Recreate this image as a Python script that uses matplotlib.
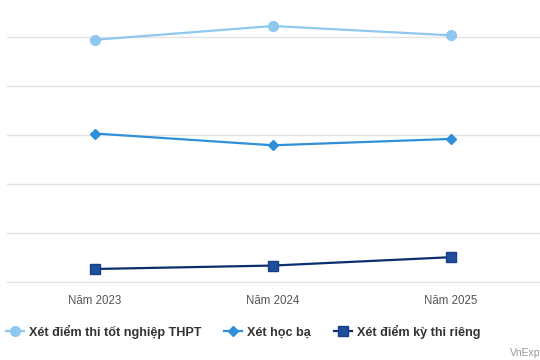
import matplotlib.pyplot as plt
import numpy as np

plt.rcParams['font.family'] = ['Liberation Sans', 'DejaVu Sans']

years = ["Năm 2023", "Năm 2024", "Năm 2025"]
thpt = [49.4, 52.2, 50.3]
hoc_ba = [30.3, 27.9, 29.2]
thi_rieng = [2.7, 3.4, 5.1]
names = ["Xét điểm thi tốt nghiệp THPT", "Xét học bạ", "Xét điểm kỳ thi riêng"]

fig = plt.figure(figsize=(5.4, 3.6), dpi=100)
ax = fig.add_axes([0.013, 0.216, 0.987, 0.784])
x = np.arange(len(years))

ax.plot(x, thpt, '-o', color="#8ec7f0", lw=1.6, markersize=7, label=names[0], zorder=3)
ax.plot(x, hoc_ba, '-D', color="#2f8fd8", lw=1.6, markersize=5, label=names[1], zorder=3)
ax.plot(x, thi_rieng, '-s', color="#0b2f6e", lw=1.6, markersize=7,
        markerfacecolor="#1f4e9c", markeredgecolor="#163f85", label=names[2], zorder=3)

ax.set_xlim(-0.494, 2.5)
ax.set_ylim(0, 57.5)
ax.set_yticks([0, 10, 20, 30, 40, 50])
ax.yaxis.grid(True, color="#e3e3e3", lw=1)
ax.set_yticklabels([])
ax.tick_params(axis='y', length=0)
ax.set_xticks(x)
ax.set_xticklabels(years, fontsize=8.3, color="#555555")
ax.tick_params(axis='x', length=0, pad=9)
for s in ["top", "right", "left"]:
    ax.spines[s].set_visible(False)
ax.spines["bottom"].set_color("#e3e3e3")
ax.set_axisbelow(True)

fig.legend(loc="center left", bbox_to_anchor=(0.011, 0.079), ncol=3, frameon=False,
           prop={'weight': 'bold', 'size': 9.1}, labelcolor="#333333",
           handlelength=1.43, handletextpad=0.4, columnspacing=1.8, borderaxespad=0,
           borderpad=0)
fig.text(0.945, 0.012, "VnExp", fontsize=7.5, color="#999999", ha="left")

fig.savefig("out.png", dpi=100)
